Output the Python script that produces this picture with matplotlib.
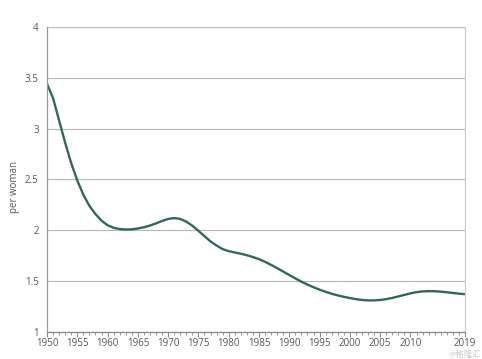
import matplotlib
matplotlib.use("Agg")
import matplotlib.pyplot as plt
import numpy as np

years = list(range(1950, 2020))
fertility = [3.44, 3.30, 3.08, 2.86, 2.66, 2.49, 2.35, 2.24, 2.16, 2.095,
             2.05, 2.025, 2.012, 2.008, 2.01, 2.018, 2.03, 2.047, 2.068, 2.092,
             2.112, 2.12, 2.112, 2.085, 2.045, 1.995, 1.942, 1.89, 1.85, 1.815,
             1.795, 1.782, 1.77, 1.755, 1.737, 1.716, 1.69, 1.66, 1.628, 1.594,
             1.56, 1.527, 1.495, 1.466, 1.44, 1.416, 1.395, 1.376, 1.36, 1.346,
             1.334, 1.323, 1.315, 1.311, 1.311, 1.315, 1.323, 1.335, 1.35, 1.365,
             1.38, 1.392, 1.399, 1.402, 1.401, 1.397, 1.391, 1.384, 1.377, 1.372]
x_tick_labels = [1950, 1955, 1960, 1965, 1970, 1975, 1980, 1985, 1990, 1995,
                 2000, 2005, 2010, 2019]
y_ticks = [1, 1.5, 2, 2.5, 3, 3.5, 4]
y_tick_labels = ["1", "1.5", "2", "2.5", "3", "3.5", "4"]

plt.rcParams['font.family'] = ['Open Sans', 'Noto Sans CJK SC', 'DejaVu Sans']

fig = plt.figure(figsize=(4.82, 3.59), dpi=100)
ax = fig.add_axes([0.0975, 0.0752, 0.8672, 0.8498])

ax.plot(years, fertility, color="#2f6b52", linewidth=1.7, solid_joinstyle="round",
        solid_capstyle="round")

ax.set_xlim(1950, 2019)
ax.set_ylim(1, 4)
ax.set_yticks(y_ticks)
ax.set_yticklabels(y_tick_labels)
ax.set_xticks(x_tick_labels)
ax.set_xticklabels([str(v) for v in x_tick_labels])
ax.set_xticks(years, minor=True)

ax.tick_params(axis="y", length=0, labelsize=7, colors="#555555", pad=6)
ax.tick_params(axis="x", which="major", length=3.5, labelsize=7, colors="#555555",
               pad=1, width=0.7)
ax.tick_params(axis="x", which="minor", length=2.5, color="#888888", width=0.6)
ax.tick_params(axis="x", which="major", color="#888888")

ax.grid(axis="y", color="#bbbbbb", linewidth=0.9)
ax.set_axisbelow(True)
ax.spines["top"].set_visible(False)
ax.spines["left"].set_color("#999999")
ax.spines["right"].set_color("#cccccc")
ax.spines["bottom"].set_color("#888888")
for s in ["left", "right", "bottom"]:
    ax.spines[s].set_linewidth(0.9)

fig.text(0.031, 0.48, "per woman", rotation=90, fontsize=7, color="#555555",
         ha="center", va="center")

fig.text(0.998, 0.0, "@格隆汇", fontsize=6, color="#cccccc", ha="right", va="bottom")

fig.savefig("out.png", dpi=100)
